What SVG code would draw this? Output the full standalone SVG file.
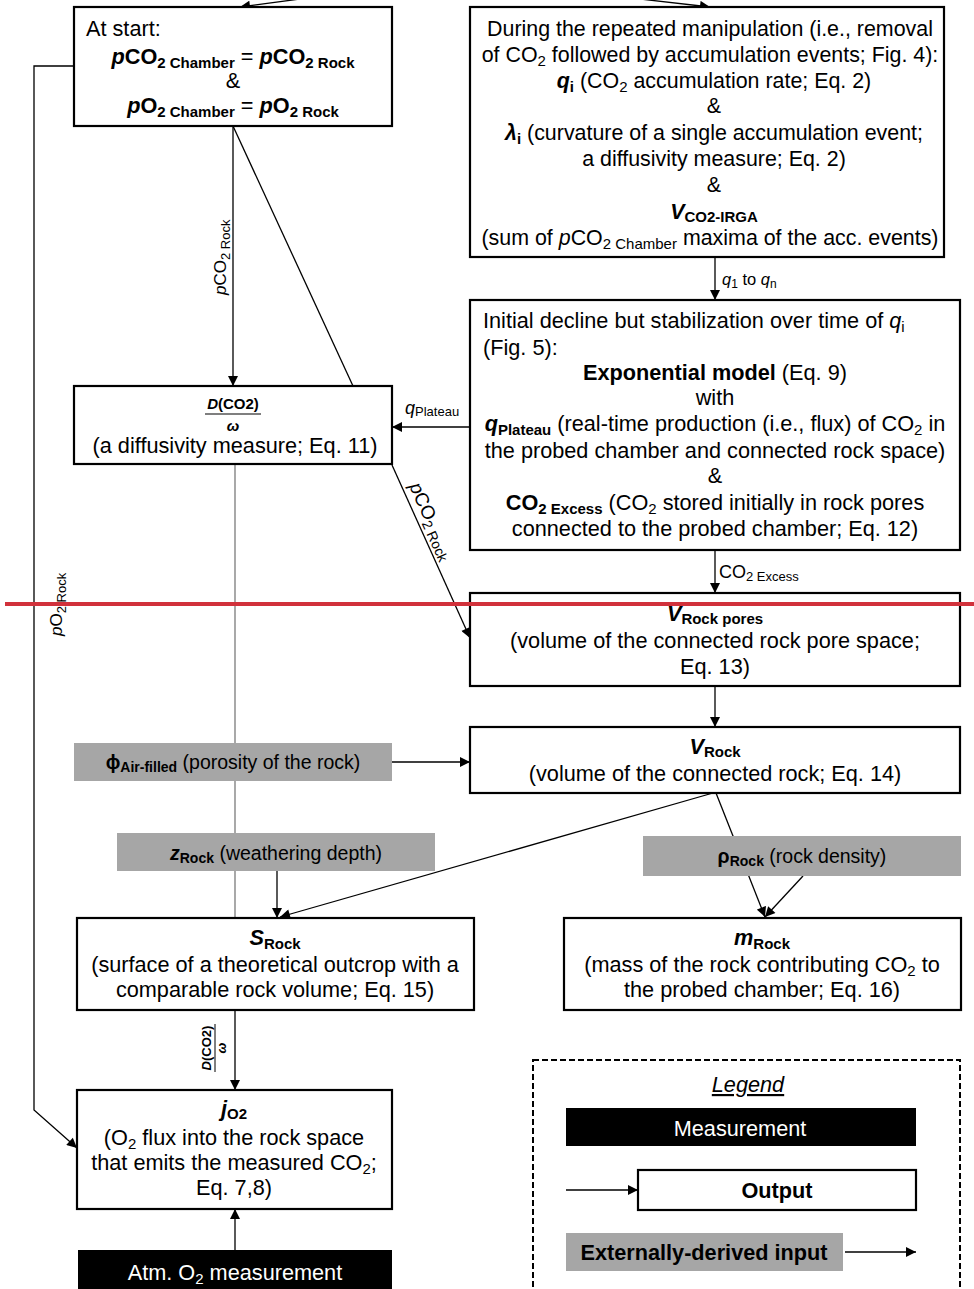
<svg xmlns="http://www.w3.org/2000/svg" width="974" height="1289" viewBox="0 0 974 1289">
<defs>
<style>
text{font-family:"Liberation Sans",Arial,sans-serif;font-size:21.7px;fill:#000}
.m{text-anchor:middle}
.b{font-weight:bold}
.i{font-style:italic}
.s{font-size:15px}
.g{font-size:19.5px}
.tr{font-size:21.4px}
.box{fill:#fff;stroke:#000;stroke-width:2.2}
.gbox{fill:#a6a6a6;stroke:none}
.bbox{fill:#000;stroke:none}
.ln{stroke:#000;stroke-width:1.3;fill:none}
.gl{stroke:#7a7a7a;stroke-width:1.3;fill:none}
.w{fill:#fff}
.lbl{font-size:17px}
.fr{font-size:15px;font-weight:bold}
.frs{font-size:13px;font-weight:bold}
</style>
<marker id="a" viewBox="0 0 10 10" refX="10" refY="5" markerWidth="11" markerHeight="10" markerUnits="userSpaceOnUse" orient="auto">
<path d="M0,0 L10,5 L0,10 z" fill="#000"/>
</marker>
</defs>
<rect width="974" height="1289" fill="#fff"/>

<g id="connectors">
<path class="ln" d="M300,-1 L240,7" marker-end="url(#a)"/>
<path class="ln" d="M640,-1 L710,7" marker-end="url(#a)"/>
<path class="ln" d="M74,66 L34,66 L34,1110 L77,1148" marker-end="url(#a)"/>
<path class="ln" d="M233,126 L233,386" marker-end="url(#a)"/>
<path class="ln" d="M233,126 L353,386"/>
<path class="ln" d="M470,427 L392,427" marker-end="url(#a)"/>
<path class="ln" d="M392,465 L470,638" marker-end="url(#a)"/>
<path class="gl" d="M235,464 L235,918"/>
<path class="ln" d="M715,257 L715,300" marker-end="url(#a)"/>
<path class="ln" d="M715,550 L715,593" marker-end="url(#a)"/>
<path class="ln" d="M715,686 L715,727" marker-end="url(#a)"/>
<path class="ln" d="M392,762 L470,762" marker-end="url(#a)"/>
<path class="ln" d="M713,793 L280,917" marker-end="url(#a)"/>
<path class="ln" d="M716,793 L765,917" marker-end="url(#a)"/>
<path class="ln" d="M803,876 L765,917" marker-end="url(#a)"/>
<path class="ln" d="M277,871 L277,918" marker-end="url(#a)"/>
<path class="ln" d="M235,1010 L235,1090" marker-end="url(#a)"/>
<path class="ln" d="M235,1250 L235,1209" marker-end="url(#a)"/>
<text class="lbl" transform="translate(226,295) rotate(-90)"><tspan class="i">p</tspan>CO<tspan dy="4" font-size="13">2 Rock</tspan></text>
<text class="lbl" transform="translate(62,636) rotate(-90)"><tspan class="i">p</tspan>O<tspan dy="4" font-size="13">2 Rock</tspan></text>
<text style="font-size:19px" transform="translate(409,486) rotate(65.6)"><tspan class="i">p</tspan>CO<tspan dy="4" font-size="14">2 Rock</tspan></text>
<text style="font-size:18px" x="405" y="414"><tspan class="i">q</tspan><tspan dy="2" font-size="13">Plateau</tspan></text>
<text style="font-size:16.5px" x="722" y="285"><tspan class="i">q</tspan><tspan dy="3" font-size="12">1</tspan><tspan dy="-3"> to </tspan><tspan class="i">q</tspan><tspan dy="3" font-size="12">n</tspan></text>
<text style="font-size:18px" x="719" y="578">CO<tspan dy="3" font-size="13">2 Excess</tspan></text>
<g transform="translate(215,1048) rotate(-90)">
<text x="0" y="-4" class="m frs"><tspan class="i">D</tspan>(CO2)</text>
<line x1="-24" y1="0" x2="24" y2="0" stroke="#000" stroke-width="1"/>
<text x="0" y="11" class="m frs i">ω</text>
</g>
</g>

<g id="n-start">
<rect class="box" x="74" y="7" width="318" height="119"/>
<text x="86" y="36">At start:</text>
<text x="233" y="64" class="m b"><tspan class="i">p</tspan>CO<tspan dy="4" class="s">2 Chamber</tspan><tspan dy="-4" font-weight="normal"> = </tspan><tspan class="i">p</tspan>CO<tspan dy="4" class="s">2 Rock</tspan></text>
<text x="233" y="88" class="m">&amp;</text>
<text x="233" y="113" class="m b"><tspan class="i">p</tspan>O<tspan dy="4" class="s">2 Chamber</tspan><tspan dy="-4" font-weight="normal"> = </tspan><tspan class="i">p</tspan>O<tspan dy="4" class="s">2 Rock</tspan></text>
</g>

<g id="n-manip">
<rect class="box" x="470" y="7" width="474" height="250"/>
<text x="710" y="36" class="m tr">During the repeated manipulation (i.e., removal</text>
<text x="710" y="62" class="m tr">of CO<tspan dy="4" class="s">2</tspan><tspan dy="-4"> followed by accumulation  events; Fig. 4):</tspan></text>
<text x="714" y="88" class="m tr"><tspan class="b i">q</tspan><tspan dy="4" class="s b">i</tspan><tspan dy="-4"> (CO</tspan><tspan dy="4" class="s">2</tspan><tspan dy="-4"> accumulation rate; Eq. 2)</tspan></text>
<text x="714" y="113" class="m tr">&amp;</text>
<text x="714" y="140" class="m tr"><tspan class="b i">λ</tspan><tspan dy="4" class="s b">i</tspan><tspan dy="-4"> (curvature  of a single accumulation event;</tspan></text>
<text x="714" y="166" class="m tr">a diffusivity measure; Eq. 2)</text>
<text x="714" y="192" class="m tr">&amp;</text>
<text x="714" y="219" class="m b tr"><tspan class="i">V</tspan><tspan dy="3" class="s">CO2-IRGA</tspan></text>
<text x="710" y="245" class="m tr">(sum of <tspan class="i">p</tspan>CO<tspan dy="4" class="s">2 Chamber</tspan><tspan dy="-4"> maxima of the acc. events)</tspan></text>
</g>

<g id="n-diff">
<rect class="box" x="74" y="386" width="318" height="78"/>
<text x="233" y="409" class="m fr"><tspan class="i">D</tspan>(CO2)</text>
<line x1="205" y1="414" x2="261" y2="414" stroke="#000" stroke-width="1.2"/>
<text x="233" y="431" class="m fr i">ω</text>
<text x="235" y="453" class="m">(a diffusivity  measure; Eq. 11)</text>
</g>

<g id="n-decline">
<rect class="box" x="470" y="300" width="490" height="250"/>
<text x="483" y="328">Initial decline but stabilization over time of <tspan class="i">q</tspan><tspan dy="4" class="s">i</tspan></text>
<text x="483" y="355">(Fig. 5):</text>
<text x="715" y="380" class="m"><tspan class="b">Exponential model</tspan> (Eq. 9)</text>
<text x="715" y="405" class="m">with</text>
<text x="715" y="431" class="m"><tspan class="b i">q</tspan><tspan dy="4" class="s b">Plateau</tspan><tspan dy="-4"> (real-time production (i.e., flux)  of CO</tspan><tspan dy="4" class="s">2</tspan><tspan dy="-4"> in</tspan></text>
<text x="715" y="458" class="m">the probed chamber and connected rock space)</text>
<text x="715" y="483" class="m">&amp;</text>
<text x="715" y="510" class="m"><tspan class="b">CO</tspan><tspan dy="4" class="s b">2 Excess</tspan><tspan dy="-4"> (CO</tspan><tspan dy="4" class="s">2</tspan><tspan dy="-4"> stored initially in rock pores</tspan></text>
<text x="715" y="536" class="m">connected to the probed chamber; Eq. 12)</text>
</g>

<g id="n-vpores">
<rect class="box" x="470" y="593" width="490" height="93"/>
<text x="715" y="621" class="m b"><tspan class="i">V</tspan><tspan dy="3" class="s">Rock pores</tspan></text>
<text x="715" y="648" class="m">(volume  of the connected rock pore space;</text>
<text x="715" y="674" class="m">Eq. 13)</text>
</g>

<g id="n-vrock">
<rect class="box" x="470" y="727" width="490" height="66"/>
<text x="715" y="754" class="m b"><tspan class="i">V</tspan><tspan dy="3" class="s">Rock</tspan></text>
<text x="715" y="781" class="m">(volume  of the connected rock; Eq. 14)</text>
</g>

<g id="n-phi">
<rect class="gbox" x="74" y="743" width="318" height="38"/>
<text x="233" y="769" class="m g"><tspan class="b">ϕ</tspan><tspan dy="3" class="b" font-size="14">Air-filled</tspan><tspan dy="-3"> (porosity of the rock)</tspan></text>
</g>

<g id="n-z">
<rect class="gbox" x="117" y="833" width="318" height="38"/>
<text x="276" y="860" class="m g"><tspan class="b i">z</tspan><tspan dy="3" class="b" font-size="14">Rock</tspan><tspan dy="-3"> (weathering depth)</tspan></text>
</g>

<g id="n-rho">
<rect class="gbox" x="643" y="836" width="318" height="40"/>
<text x="802" y="863" class="m g"><tspan class="b">ρ</tspan><tspan dy="3" class="b" font-size="14">Rock</tspan><tspan dy="-3"> (rock density)</tspan></text>
</g>

<g id="n-s">
<rect class="box" x="77" y="918" width="397" height="92"/>
<text x="275" y="945" class="m b"><tspan class="i">S</tspan><tspan dy="4" class="s">Rock</tspan></text>
<text x="275" y="972" class="m">(surface of a theoretical outcrop with a</text>
<text x="275" y="997" class="m">comparable rock volume;  Eq. 15)</text>
</g>

<g id="n-m">
<rect class="box" x="564" y="918" width="397" height="92"/>
<text x="762" y="945" class="m b"><tspan class="i">m</tspan><tspan dy="4" class="s">Rock</tspan></text>
<text x="762" y="972" class="m">(mass of the rock contributing CO<tspan dy="4" class="s">2</tspan><tspan dy="-4"> to</tspan></text>
<text x="762" y="997" class="m">the probed chamber; Eq. 16)</text>
</g>

<g id="n-j">
<rect class="box" x="77" y="1090" width="315" height="119"/>
<text x="234" y="1116" class="m b"><tspan class="i">j</tspan><tspan dy="3" class="s">O2</tspan></text>
<text x="234" y="1145" class="m">(O<tspan dy="4" class="s">2</tspan><tspan dy="-4"> flux  into the rock space</tspan></text>
<text x="234" y="1170" class="m">that emits the measured CO<tspan dy="4" class="s">2</tspan><tspan dy="-4">;</tspan></text>
<text x="234" y="1195" class="m">Eq. 7,8)</text>
</g>

<g id="n-atm">
<rect class="bbox" x="78" y="1250" width="314" height="45"/>
<text x="235" y="1280" class="m w">Atm. O<tspan dy="4" class="s w">2</tspan><tspan dy="-4"> measurement</tspan></text>
</g>

<g id="legend">
<rect x="533" y="1060" width="427" height="240" fill="none" stroke="#000" stroke-width="2" stroke-dasharray="6,3"/>
<text x="748" y="1092" class="m i" text-decoration="underline">Legend</text>
<rect class="bbox" x="566" y="1108" width="350" height="38"/>
<text x="740" y="1136" class="m w">Measurement</text>
<path class="ln" d="M566,1190 L638,1190" marker-end="url(#a)"/>
<rect class="box" x="638" y="1170" width="278" height="40"/>
<text x="777" y="1198" class="m b">Output</text>
<rect class="gbox" x="566" y="1233" width="277" height="38"/>
<text x="704" y="1260" class="m b">Externally-derived input</text>
<path class="ln" d="M845,1252 L916,1252" marker-end="url(#a)"/>
</g>

<line x1="5" y1="604" x2="974" y2="604" stroke="#d1313b" stroke-width="4"/>
</svg>
